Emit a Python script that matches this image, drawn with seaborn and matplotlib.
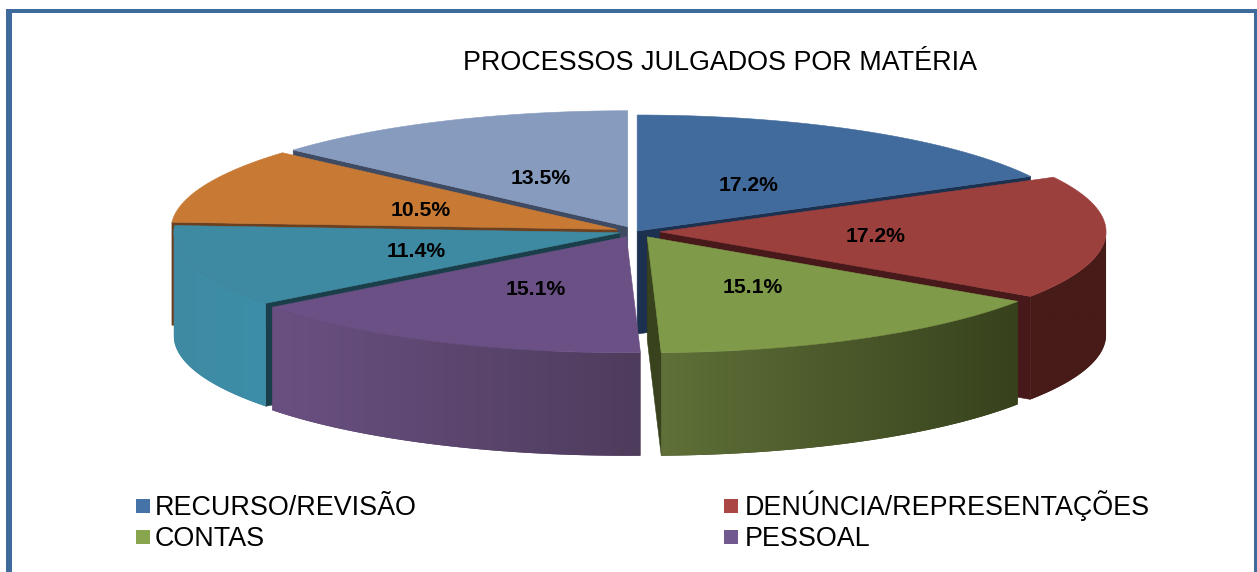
# plot.py - pizza 3D "explodida" de processos julgados por materia
import numpy as np
import matplotlib
matplotlib.use('Agg')
import matplotlib.pyplot as plt
from matplotlib.patches import Polygon, Rectangle
import seaborn as sns

# --- dados ---
title = 'PROCESSOS JULGADOS POR MATÉRIA'
values = [17.2, 17.2, 15.1, 15.1, 11.4, 10.5, 13.5]
legend_labels = ['RECURSO/REVISÃO', 'DENÚNCIA/REPRESENTAÇÕES', 'CONTAS', 'PESSOAL']
legend_colors = ['#4572a7', '#aa4643', '#89a54e', '#71588f']

# --- estilo de cada fatia ---
top_colors = ['#416b9c', '#9c403e', '#7f9b4a', '#6a5084', '#3e8aa3', '#c87a35', '#879bbf']
face_colors = ['#1c3050', '#47191a', '#38421c', '#3d2f4f', '#1b3f4a', '#6b4020', '#3f4a63']
rim_left = ['#2c4a70', '#471b18', '#5f7038', '#6a5082', '#3f8aa3', '#6b4020', '#3f4a63']
rim_right = ['#2c4a70', '#471b18', '#37421d', '#4e3c5c', '#3c8ea8', '#6b4020', '#3f4a63']
explode = [0.005, 0.054, 0.052, 0.05, 0.038, 0.046, 0.045]
draw_order = [6, 5, 0, 4, 1, 3, 2]

center_x, center_y = 636, 231.5
radius_x, radius_y = 446, 116
depth = 103

sns.set_theme(style='white')
plt.rcParams['font.family'] = ['Liberation Sans', 'DejaVu Sans']

fig = plt.figure(figsize=(12.57, 5.72), dpi=100)
ax = fig.add_axes([0, 0, 1, 1])
ax.set_xlim(0, 1257)
ax.set_ylim(572, 0)
ax.axis('off')

# moldura (a parte de baixo fica fora da imagem)
frame_color = '#3f6b9c'
ax.add_patch(Rectangle((6, 9), 6, 563, color=frame_color, lw=0))
ax.add_patch(Rectangle((6, 9), 1251, 4, color=frame_color, lw=0))
ax.add_patch(Rectangle((1254, 9), 3, 563, color=frame_color, lw=0))


def ellipse(angle, ox, oy):
    return ox + radius_x * np.sin(angle), oy - radius_y * np.cos(angle)


def add_side(p0, p1, color, zorder):
    pts = [p0, p1, (p1[0], p1[1] + depth), (p0[0], p0[1] + depth)]
    ax.add_patch(Polygon(pts, facecolor=color, edgecolor=color, lw=0.4, zorder=zorder))


edges = np.radians(np.cumsum([0] + values) * 3.6)

for n, i in enumerate(draw_order):
    a, b = edges[i], edges[i + 1]
    mid = (a + b) / 2
    ox = center_x + explode[i] * radius_x * np.sin(mid)
    oy = center_y - explode[i] * radius_y * np.cos(mid)
    z = 2 + n * 3

    # faces internas, so as que estao viradas para frente
    if np.sin(a) < -1e-6:
        add_side((ox, oy), ellipse(a, ox, oy), face_colors[i], z)
    if np.sin(b) > 1e-6:
        add_side((ox, oy), ellipse(b, ox, oy), face_colors[i], z)

    # lateral curva com degrade, so a metade da frente da elipse
    front_a, front_b = max(a, np.pi / 2), min(b, 3 * np.pi / 2)
    if front_b > front_a:
        fx, fy = ellipse(np.linspace(front_a, front_b, 120), ox, oy)
        rim = list(zip(fx, fy)) + list(zip(fx[::-1], fy[::-1] + depth))
        rim_patch = Polygon(rim, facecolor=rim_right[i], edgecolor='none', zorder=z + 1)
        ax.add_patch(rim_patch)
        shades = np.array(sns.blend_palette([rim_left[i], rim_right[i]], 256))[None, :, :3]
        im = ax.imshow(shades, extent=[fx.min(), fx.max(), fy.max() + depth, fy.min()],
                       aspect='auto', interpolation='bilinear', zorder=z + 1)
        im.set_clip_path(rim_patch)

    # tampo
    rx, ry = ellipse(np.linspace(a, b, 120), ox, oy)
    top = [(ox, oy)] + list(zip(rx, ry))
    ax.add_patch(Polygon(top, facecolor=top_colors[i], edgecolor=top_colors[i],
                         lw=0.4, zorder=z + 2))

    # rotulo
    lx = ox + 0.48 * radius_x * np.sin(mid) + 1.5
    ly = oy - 0.48 * radius_y * np.cos(mid) + 2.3
    ax.text(lx, ly, f'{values[i]:.1f}%', ha='center', va='center', fontsize=15.2,
            fontweight='bold', color='black', zorder=50)

ax.set_xlim(0, 1257)
ax.set_ylim(572, 0)

ax.text(720, 63, title, ha='center', va='center', fontsize=19.35, color='black')

# legenda em duas colunas, linhas alinhadas pela base do texto
legend_x = [(136, 155), (724, 745)]
legend_y = [515, 545.5]
for k, (label, color) in enumerate(zip(legend_labels, legend_colors)):
    box_x, text_x = legend_x[k % 2]
    base = legend_y[k // 2]
    ax.add_patch(Rectangle((box_x, base - 16), 14, 14, color=color, lw=0))
    ax.text(text_x, base, label, ha='left', va='baseline', fontsize=19.35, color='black')

fig.savefig('out.png', dpi=100)
